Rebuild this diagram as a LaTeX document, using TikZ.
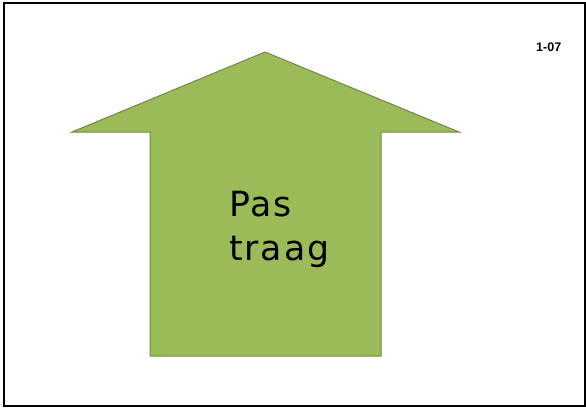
\documentclass[tikz,border=0pt]{standalone}
\usepackage{fontspec}
\setmainfont{DejaVu Sans}
\newfontfamily\tagfont{Liberation Sans}
\usepackage{tikz}
\usetikzlibrary{positioning}
\definecolor{arrowgreen}{HTML}{9BBB59}
\definecolor{arrowedge}{HTML}{71893F}

\begin{document}
\begin{tikzpicture}[
    x=1pt, y=-1pt,
    frame/.style={draw=black, line width=2pt},
    uparrow/.style={fill=arrowgreen, draw=arrowedge, line width=1pt},
    label/.style={align=left, inner sep=0pt, anchor=base west,
                  font=\fontsize{34.7}{44}\selectfont\addfontfeature{LetterSpace=5.5}},
    slide/.style={font=\tagfont\bfseries\fontsize{12.5}{14}\selectfont, inner sep=0pt, anchor=base west},
  ]
    \useasboundingbox (0,0) rectangle (586,408);

    %% ── Frame ────────────────────────────────────────────────
    \draw[frame] (4,3) rectangle (585,406);

    %% ── Block arrow ──────────────────────────────────────────
    \draw[uparrow] (265,52) -- (459,132) -- (381,132) -- (381,356)
                   -- (150,356) -- (150,132) -- (72,132) -- cycle;

    %% ── Texts ────────────────────────────────────────────────
    \node[label] (lbl) at (229,260) {Pas\\traag};
    \node[slide] (num) at (536,51.5) {1-07};
  \end{tikzpicture}
\end{document}
